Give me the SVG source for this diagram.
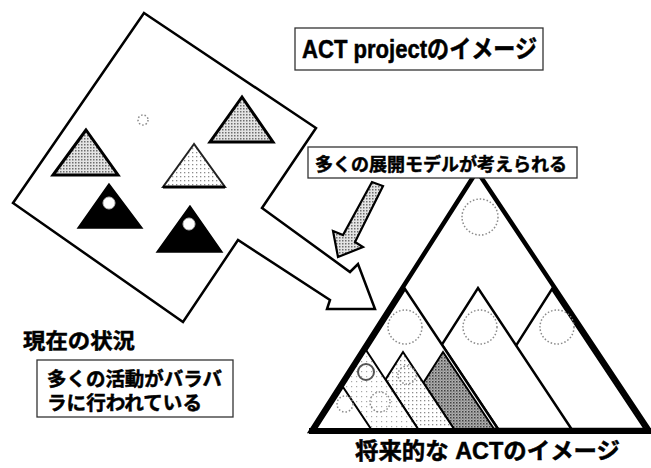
<svg xmlns="http://www.w3.org/2000/svg" width="651" height="468" viewBox="0 0 651 468">
<style>
.ln{stroke:#000;stroke-linejoin:miter;fill:#fff}
.dc{fill:none;stroke:#8a8a8a;stroke-width:1.5;stroke-dasharray:1.5 2}
.t{font-family:"Liberation Sans","Noto Sans CJK JP",sans-serif;font-weight:bold;fill:#000;stroke:#000;stroke-width:0.5}
.box{fill:#fff;stroke:#333;stroke-width:1.3}
</style>
<defs>
<pattern id="dotsMed" width="3" height="3" patternUnits="userSpaceOnUse"><rect width="3" height="3" fill="#e4e4e4"/><rect x="0" y="0" width="1.5" height="1.5" fill="#6e6e6e"/></pattern>
<pattern id="dotsLight" width="4" height="4" patternUnits="userSpaceOnUse"><rect width="4" height="4" fill="#fff"/><rect x="0" y="0" width="1.3" height="1.3" fill="#8c8c8c"/></pattern>
<pattern id="dotsFaint" width="5" height="5" patternUnits="userSpaceOnUse"><rect width="5" height="5" fill="#fff"/><rect x="1" y="1" width="1.2" height="1.2" fill="#a8a8a8"/></pattern>
<pattern id="hatch" width="3" height="3" patternUnits="userSpaceOnUse"><rect width="3" height="3" fill="#b0b0b0"/><rect x="0" y="0" width="1.5" height="1.5" fill="#404040"/><rect x="1.5" y="1.5" width="1" height="1" fill="#606060"/></pattern>
</defs>
<rect width="651" height="468" fill="#fff"/>

<g id="current-situation">
<polygon class="ln" stroke-width="2.5" points="144,13 316,128 262,208 350,272 358,264 375,309 327,309 330,300 238,240 183,322 13,203"/>
<circle class="dc" cx="143" cy="120" r="5"/>
<polygon points="86,130 53,175 118,175" fill="url(#dotsMed)" stroke="#000" stroke-width="3"/>
<polygon points="242,97 210,142 273,142" fill="url(#dotsMed)" stroke="#000" stroke-width="3"/>
<polygon points="194,144 163,187 225,187" fill="url(#dotsLight)" stroke="#222" stroke-width="2"/>
<line x1="163" y1="187" x2="225" y2="187" stroke="#000" stroke-width="3"/>
<polygon points="109,184 78,228 142,228" fill="#000" stroke="#000" stroke-width="1.5"/>
<circle cx="109" cy="203" r="6" fill="#fff" stroke="#bbb" stroke-width="1"/>
<polygon points="190,206 157,252 222,252" fill="#000" stroke="#000" stroke-width="1.5"/>
<circle cx="189" cy="224" r="6" fill="#fff" stroke="#bbb" stroke-width="1"/>
</g>

<g id="title">
<rect class="box" x="295" y="28" width="248" height="42"/>
<text class="t" x="302" y="58" font-size="25" textLength="235" lengthAdjust="spacingAndGlyphs">ACT projectのイメージ</text>
</g>

<g id="future-image">
<polygon class="ln" stroke-width="4.5" points="477,171 311,431 650,431"/>
<circle class="dc" cx="480" cy="217" r="18"/>
<polygon class="ln" stroke-width="2.5" points="552,289 645,429 463,429"/>
<polygon class="ln" stroke-width="2.5" points="441.9,344.7 478,288 571.5,429 498,429"/>
<polygon class="ln" stroke-width="2.5" points="405,289 316,429 498,429"/>
<circle class="dc" cx="405" cy="327" r="17"/>
<circle class="dc" cx="480" cy="327" r="17"/>
<circle class="dc" cx="557" cy="327" r="17"/>
<polygon points="423.4,382.8 443,352 494,429 454,429" fill="url(#hatch)" stroke="#000" stroke-width="2"/>
<polygon points="385.6,379.4 403,352 454,429 418,429" fill="url(#dotsLight)" stroke="#000" stroke-width="2"/>
<circle class="dc" cx="407" cy="375" r="9"/>
<polygon points="366,350 316,429 418,429" fill="url(#dotsFaint)" stroke="#000" stroke-width="2"/>
<circle cx="366" cy="372" r="8" fill="none" stroke="#555" stroke-width="2"/>
<circle class="dc" cx="380" cy="402" r="10"/>
<polygon points="343,387 316,429 371,429" fill="#fff" stroke="#000" stroke-width="2"/>
<circle class="dc" cx="345" cy="404" r="8"/>
<line x1="309" y1="431" x2="652" y2="431" stroke="#000" stroke-width="6"/>
<text class="t" x="355" y="459" font-size="23" textLength="265" lengthAdjust="spacingAndGlyphs">将来的な ACTのイメージ</text>
</g>

<g id="label-models">
<rect class="box" x="308" y="147" width="269" height="31"/>
<text class="t" x="315" y="171" font-size="18" textLength="252" lengthAdjust="spacingAndGlyphs">多くの展開モデルが考えられる</text>
</g>

<g id="label-current">
<text class="t" x="23" y="348" font-size="21" textLength="112" lengthAdjust="spacingAndGlyphs">現在の状況</text>
<rect class="box" x="37" y="360" width="196" height="57"/>
<text class="t" x="47" y="386" font-size="19" textLength="175" lengthAdjust="spacingAndGlyphs">多くの活動がバラバ</text>
<text class="t" x="47" y="410" font-size="19" textLength="155" lengthAdjust="spacingAndGlyphs">ラに行われている</text>
</g>

<g id="connectors">
<polygon points="372,182 343,235 333,231 338,257 363,247 355,242 383,186" fill="url(#dotsMed)" stroke="#000" stroke-width="2.2" stroke-linejoin="miter"/>
</g>
</svg>
